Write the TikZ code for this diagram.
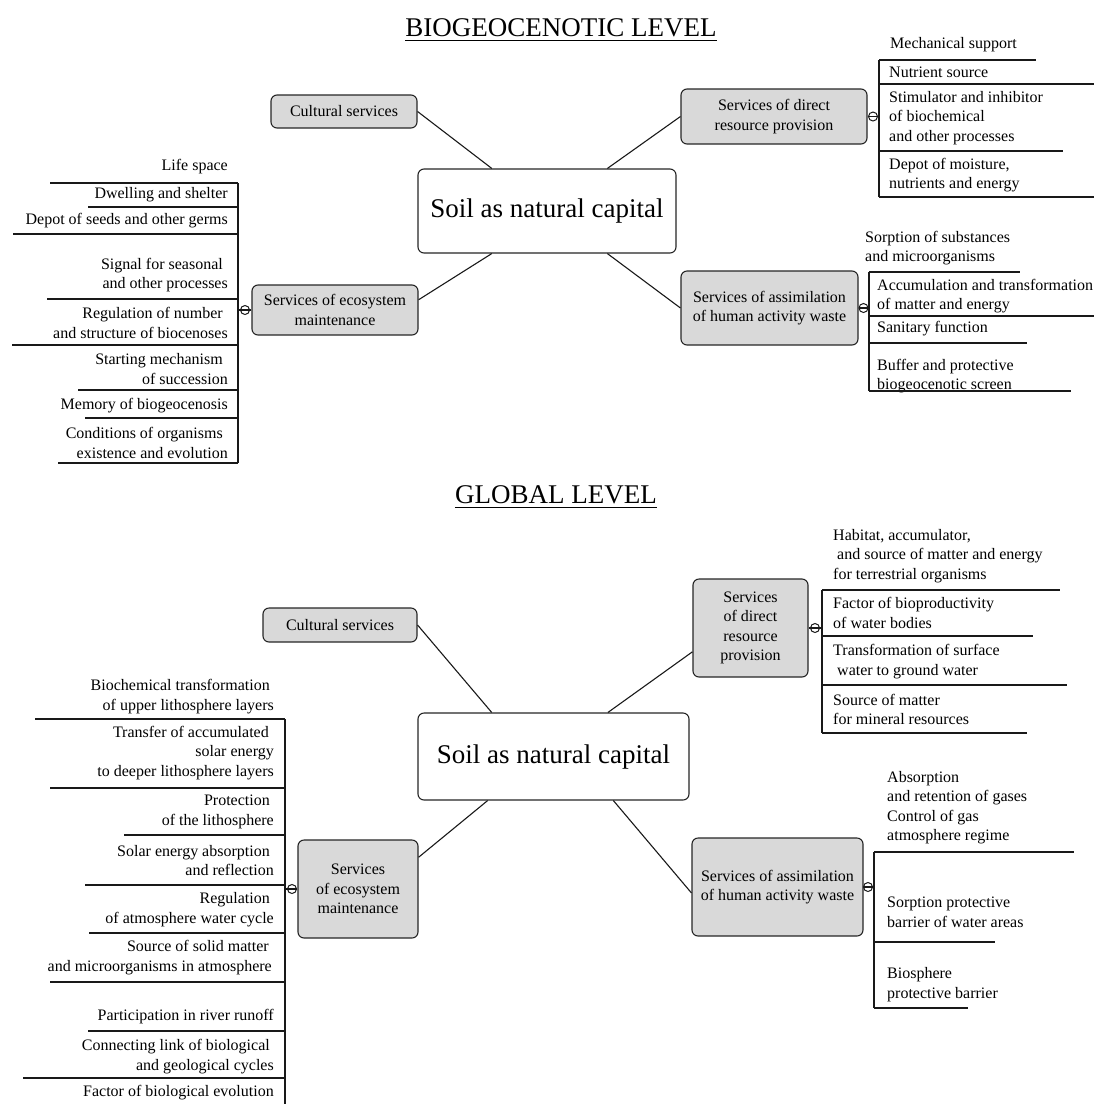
\documentclass[tikz,border=0pt]{standalone}
\usepackage{fontspec}
\setmainfont{Liberation Serif}
\usetikzlibrary{calc}
\begin{document}
\begin{tikzpicture}[x=1pt,y=-1pt,
  svc/.style={draw=black!85, fill=black!15, line width=1.1pt, rounded corners=6pt, align=center, font=\fontsize{16}{19.5}\selectfont, inner sep=0pt},
  core/.style={draw=black!85, fill=white, line width=1.1pt, rounded corners=6pt, font=\fontsize{27}{32}\selectfont, inner sep=0pt},
  itl/.style={anchor=west, align=left, inner sep=0pt, font=\fontsize{16}{19.5}\selectfont},
  itr/.style={anchor=east, align=right, inner sep=0pt, font=\fontsize{16}{19.5}\selectfont},
  ln/.style={line width=1.1pt, draw=black!90},
  knot/.style={draw=black!90, circle, line width=1pt, inner sep=0pt, minimum size=9pt},
  ttl/.style={font=\fontsize{27}{32}\selectfont, inner sep=0pt}
]
\useasboundingbox (0,0) rectangle (1094,1104);
\clip (0,0) rectangle (1094,1104);

% ================= TOP: BIOGEOCENOTIC LEVEL =================
\node[ttl] (t1) at (561,28) {BIOGEOCENOTIC LEVEL};
\draw[line width=1pt] ($(t1.south west)+(0,3)$) -- ($(t1.south east)+(0,3)$);

\node[core, minimum width=258pt, minimum height=84pt] (core1) at (547,211) {Soil as natural capital};
\node[svc, minimum width=146pt, minimum height=33pt] (cult1) at (344,111.5) {Cultural services};
\node[svc, minimum width=186pt, minimum height=55pt] (dir1) at (774,116.5) {Services of direct\\resource provision};
\node[svc, minimum width=177pt, minimum height=74pt] (ass1) at (769.5,308) {Services of assimilation\\of human activity waste};
\node[svc, minimum width=166pt, minimum height=50pt] (eco1) at (335,310) {Services of ecosystem\\maintenance};

\draw[ln] (cult1.east) -- ($(core1.north west)!0.287!(core1.north east)$);
\draw[ln] ($(core1.north west)!0.733!(core1.north east)$) -- (dir1.west);
\draw[ln] ($(core1.south west)!0.733!(core1.south east)$) -- (ass1.west);
\draw[ln] ($(core1.south west)!0.287!(core1.south east)$) -- ($(eco1.north east)!0.3!(eco1.south east)$);

% left list (ecosystem maintenance)
\coordinate (e1m) at (238,310);
\draw[ln] (eco1.west) -- (e1m);
\node[knot] (k1) at (245,310) {};
\draw[ln] (238,183) -- (238,463);
\node[itr] (a1) at (228,167) {Life space};
\draw[ln] (50,183) -- (238,183);
\node[itr] (a2) at (228,195) {Dwelling and shelter};
\draw[ln] (88,207) -- (238,207);
\node[itr] (a3) at (228,221) {Depot of seeds and other germs};
\draw[ln] (13,234) -- (238,234);
\node[itr] (a4) at (228,275) {Signal for seasonal\hspace*{5pt}\\and other processes};
\draw[ln] (47,299) -- (238,299);
\node[itr] (a5) at (228,323) {Regulation of number\hspace*{5pt}\\and structure of biocenoses};
\draw[ln] (12,345) -- (238,345);
\node[itr] (a6) at (228,369) {Starting mechanism\hspace*{5pt}\\of succession};
\draw[ln] (78,390) -- (238,390);
\node[itr] (a7) at (228,406) {Memory of biogeocenosis};
\draw[ln] (85,418) -- (238,418);
\node[itr] (a8) at (228,443) {Conditions of organisms\hspace*{5pt}\\existence and evolution};
\draw[ln] (58,463) -- (238,463);

% right list 1 (direct resource provision)
\coordinate (d1m) at (879,116.5);
\draw[ln] (dir1.east) -- (d1m);
\node[knot] (k2) at (873,116.5) {};
\draw[ln] (879,60) -- (879,197);
\node[itl] (b1) at (890,45) {Mechanical support};
\draw[ln] (879,60) -- (1036,60);
\node[itl] (b2) at (889,72) {Nutrient source};
\draw[ln] (879,84) -- (1094,84);
\node[itl] (b3) at (889,118) {Stimulator and inhibitor\\of biochemical\\and other processes};
\draw[ln] (879,151) -- (1063,151);
\node[itl] (b4) at (889,175) {Depot of moisture,\\nutrients and energy};
\draw[ln] (879,197) -- (1094,197);

% right list 2 (assimilation)
\coordinate (s1m) at (869,308);
\draw[ln] (ass1.east) -- (s1m);
\node[knot] (k3) at (863.5,308) {};
\draw[ln] (869,272) -- (869,391);
\node[itl] (c1) at (865,248) {Sorption of substances\\and microorganisms};
\draw[ln] (869,272) -- (1020,272);
\node[itl] (c2) at (877,296) {Accumulation and transformation\\of matter and energy};
\draw[ln] (869,316) -- (1094,316);
\node[itl] (c3) at (877,329) {Sanitary function};
\draw[ln] (869,343) -- (1027,343);
\node[itl] (c4) at (877,376) {Buffer and protective\\biogeocenotic screen};
\draw[ln] (869,391) -- (1071,391);

% ================= BOTTOM: GLOBAL LEVEL =================
\node[ttl] (t2) at (556,495) {GLOBAL LEVEL};
\draw[line width=1pt] ($(t2.south west)+(0,3)$) -- ($(t2.south east)+(0,3)$);

\node[core, minimum width=271pt, minimum height=87pt] (core2) at (553.5,756.5) {Soil as natural capital};
\node[svc, minimum width=154pt, minimum height=34pt] (cult2) at (340,625) {Cultural services};
\node[svc, minimum width=115pt, minimum height=98pt] (dir2) at (750.5,628) {Services\\of direct\\resource\\provision};
\node[svc, minimum width=171pt, minimum height=98pt] (ass2) at (777.5,887) {Services of assimilation\\of human activity waste};
\node[svc, minimum width=120pt, minimum height=98pt] (eco2) at (358,889) {Services\\of ecosystem\\maintenance};

\draw[ln] (cult2.east) -- ($(core2.north west)!0.273!(core2.north east)$);
\draw[ln] ($(core2.north west)!0.70!(core2.north east)$) -- ($(dir2.north west)!0.74!(dir2.south west)$);
\draw[ln] ($(core2.south west)!0.72!(core2.south east)$) -- ($(ass2.north west)!0.56!(ass2.south west)$);
\draw[ln] ($(core2.south west)!0.258!(core2.south east)$) -- ($(eco2.north east)!0.18!(eco2.south east)$);

% bottom left list (ecosystem maintenance)
\coordinate (e2m) at (285,889);
\draw[ln] (eco2.west) -- (e2m);
\node[knot] (k4) at (292,889) {};
\draw[ln] (285,719) -- (285,1104);
\node[itr] (f1) at (274,696.5) {Biochemical transformation\hspace*{4pt}\\of upper lithosphere layers};
\draw[ln] (35,719) -- (285,719);
\node[itr] (f2) at (274,753) {Transfer of accumulated\hspace*{5pt}\\solar energy\hspace*{5pt}\\to deeper lithosphere layers};
\draw[ln] (50,788) -- (285,788);
\node[itr] (f3) at (274,812) {Protection\hspace*{4pt}\\of the lithosphere};
\draw[ln] (124,835) -- (285,835);
\node[itr] (f4) at (274,860.5) {Solar energy absorption\hspace*{4pt}\\and reflection};
\draw[ln] (85,885) -- (285,885);
\node[itr] (f5) at (274,909.5) {Regulation\hspace*{4pt}\\of atmosphere water cycle};
\draw[ln] (89,933) -- (285,933);
\node[itr] (f6) at (272,957.5) {Source of solid matter\hspace*{3pt}\\and microorganisms in atmosphere};
\draw[ln] (50,982) -- (285,982);
\node[itr] (f7) at (274,1017) {Participation in river runoff};
\draw[ln] (88,1031) -- (285,1031);
\node[itr] (f8) at (274,1056.5) {Connecting link of biological\hspace*{4pt}\\and geological cycles};
\draw[ln] (23,1078) -- (285,1078);
\node[itr] (f9) at (274,1093) {Factor of biological evolution};

% bottom right list 1 (direct resource provision)
\coordinate (d2m) at (822,628);
\draw[ln] (dir2.east) -- (d2m);
\node[knot] (k5) at (815,628) {};
\draw[ln] (822,590) -- (822,733);
\node[itl] (g1) at (833,556) {Habitat, accumulator,\\\hspace*{4pt}and source of matter and energy\\for terrestrial organisms};
\draw[ln] (822,590) -- (1060,590);
\node[itl] (g2) at (833,613) {Factor of bioproductivity\\of water bodies};
\draw[ln] (822,636) -- (1033,636);
\node[itl] (g3) at (833,661.5) {Transformation of surface\\\hspace*{4pt}water to ground water};
\draw[ln] (822,685) -- (1067,685);
\node[itl] (g4) at (833,709.5) {Source of matter\\for mineral resources};
\draw[ln] (822,733) -- (1027,733);

% bottom right list 2 (assimilation)
\coordinate (s2m) at (874,887);
\draw[ln] (ass2.east) -- (s2m);
\node[knot] (k6) at (868,887) {};
\draw[ln] (874,852) -- (874,1008);
\node[itl] (h1) at (887,807.5) {Absorption\\and retention of gases\\Control of gas\\atmosphere regime};
\draw[ln] (874,852) -- (1074,852);
\node[itl] (h2) at (887,912.5) {Sorption protective\\barrier of water areas};
\draw[ln] (874,942) -- (995,942);
\node[itl] (h3) at (887,984.5) {Biosphere\\protective barrier};
\draw[ln] (874,1008) -- (968,1008);
\end{tikzpicture}
\end{document}
